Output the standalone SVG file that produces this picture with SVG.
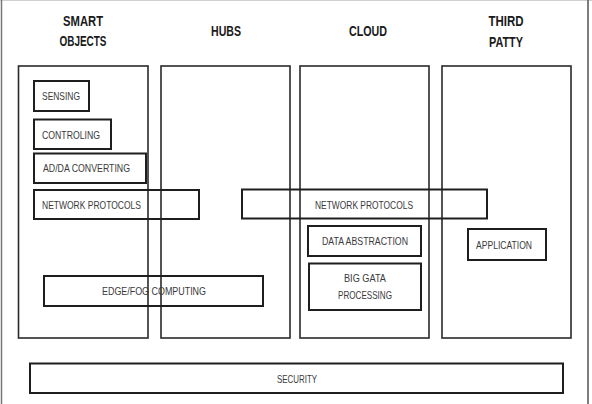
<svg xmlns="http://www.w3.org/2000/svg" width="592" height="404" viewBox="0 0 592 404">
<style>
.col{fill:none;stroke:#2a2a2a;stroke-width:1.6}
.box{fill:#fff;fill-opacity:0;stroke:#1e1e1e;stroke-width:2}
.hd{font-family:"Liberation Sans",Arial,sans-serif;font-weight:bold;font-size:15px;fill:#1a1a1a;text-anchor:middle}
.t{font-family:"Liberation Sans",Arial,sans-serif;font-size:11px;fill:#3a3a3a}
</style>
<rect width="592" height="404" fill="#fff"/>
<g id="frame">
<line x1="0" y1="0.5" x2="592" y2="0.5" stroke="#d0d0d0" stroke-width="1"/>
<line x1="1.5" y1="0" x2="1.5" y2="404" stroke="#777" stroke-width="1.5"/>
<line x1="588" y1="0" x2="588" y2="404" stroke="#555" stroke-width="1.5"/>
</g>
<g id="col-smart-objects">
<rect class="col" x="18.5" y="66" width="129.5" height="272"/>
<text class="hd" x="83" y="26" textLength="40" lengthAdjust="spacingAndGlyphs">SMART</text>
<text class="hd" x="83" y="46" textLength="47" lengthAdjust="spacingAndGlyphs">OBJECTS</text>
</g>
<g id="col-hubs">
<rect class="col" x="161" y="66" width="129" height="272"/>
<text class="hd" x="226" y="36" textLength="30" lengthAdjust="spacingAndGlyphs">HUBS</text>
</g>
<g id="col-cloud">
<rect class="col" x="300" y="66" width="129" height="272"/>
<text class="hd" x="368" y="36" textLength="38" lengthAdjust="spacingAndGlyphs">CLOUD</text>
</g>
<g id="col-third-party">
<rect class="col" x="442" y="66" width="129" height="272"/>
<text class="hd" x="506" y="26" textLength="35" lengthAdjust="spacingAndGlyphs">THIRD</text>
<text class="hd" x="506" y="47" textLength="34" lengthAdjust="spacingAndGlyphs">PATTY</text>
</g>
<g id="sensing">
<rect class="box" x="34" y="81" width="55" height="30"/>
<text class="t" x="42" y="100" textLength="38" lengthAdjust="spacingAndGlyphs">SENSING</text>
</g>
<g id="controling">
<rect class="box" x="34" y="119.5" width="77" height="29.5"/>
<text class="t" x="42" y="139" textLength="58" lengthAdjust="spacingAndGlyphs">CONTROLING</text>
</g>
<g id="adda">
<rect class="box" x="34" y="153.5" width="112" height="29.5"/>
<text class="t" x="43" y="172" textLength="87" lengthAdjust="spacingAndGlyphs">AD/DA CONVERTING</text>
</g>
<g id="netproto-left">
<rect class="box" x="34" y="190" width="165" height="29"/>
<text class="t" x="42" y="209" textLength="99" lengthAdjust="spacingAndGlyphs">NETWORK PROTOCOLS</text>
</g>
<g id="netproto-right">
<rect class="box" x="242" y="189.5" width="245" height="29"/>
<text class="t" x="315" y="209" textLength="98" lengthAdjust="spacingAndGlyphs">NETWORK PROTOCOLS</text>
</g>
<g id="edgefog">
<rect class="box" x="44" y="276" width="219" height="30"/>
<text class="t" x="102" y="295" textLength="104" lengthAdjust="spacingAndGlyphs">EDGE/FOG COMPUTING</text>
</g>
<g id="data-abstraction">
<rect class="box" x="308" y="226" width="113" height="30"/>
<text class="t" x="322" y="245" textLength="86" lengthAdjust="spacingAndGlyphs">DATA ABSTRACTION</text>
</g>
<g id="big-data">
<rect class="box" x="309" y="263.5" width="112" height="46.5"/>
<text class="t" x="344" y="282" textLength="42" lengthAdjust="spacingAndGlyphs">BIG GATA</text>
<text class="t" x="338" y="299" textLength="54" lengthAdjust="spacingAndGlyphs">PROCESSING</text>
</g>
<g id="application">
<rect class="box" x="468" y="229" width="78" height="31"/>
<text class="t" x="476" y="248.5" textLength="56" lengthAdjust="spacingAndGlyphs">APPLICATION</text>
</g>
<g id="security">
<rect class="box" x="30" y="363.5" width="533" height="29.5"/>
<text class="t" x="277" y="383" textLength="40" lengthAdjust="spacingAndGlyphs">SECURITY</text>
</g>
<g id="connectors"></g>
</svg>
